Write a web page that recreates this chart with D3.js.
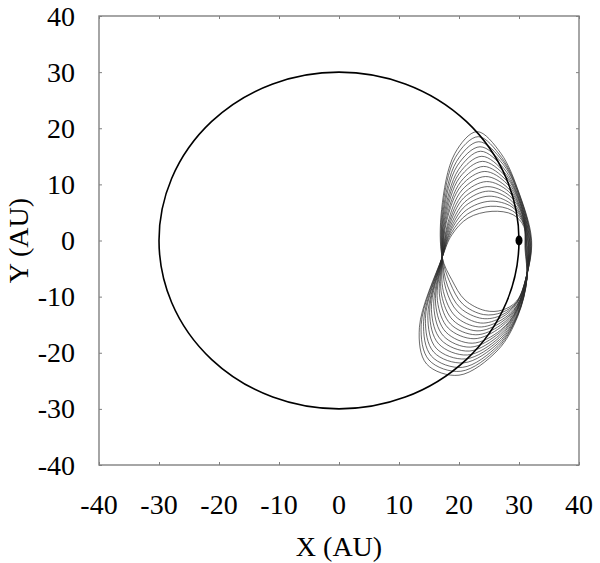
<!DOCTYPE html>
<html>
<head>
<meta charset="utf-8">
<script src="https://cdn.jsdelivr.net/npm/d3@7"></script>
<style>
  html, body { margin: 0; padding: 0; background: #fff; }
  svg { display: block; }
  text { font-family: "Liberation Serif", "Times New Roman", serif; fill: #000; }
</style>
</head>
<body>
<svg id="chart" width="600" height="563"></svg>
<script>
// ---- data (AU) ----
const xTicks = [-40, -30, -20, -10, 0, 10, 20, 30, 40];
const yTicks = [-40, -30, -20, -10, 0, 10, 20, 30, 40];
const orbitRadius = 30;          // circular orbit
const planet = [30, 0];          // planet position
const pinch = [17.2, -3.0];      // common crossing point of the loops

// key points of the 17 loops (index 0 = smallest upper arc / deepest lower arc)
const u1x = [18.8,18.7,18.6,18.5,18.4,18.3,18.2,18.1,17.9,17.8,17.7,17.6,17.5,17.4,17.3,17.2,17.1];
const u1y = [1.0,1.3,1.6,1.8,2.1,2.4,2.7,3.0,3.3,3.5,3.8,4.1,4.4,4.7,4.9,5.2,5.5];
const u2x = [21.5,21.4,21.2,21.1,21.0,20.8,20.7,20.5,20.4,20.3,20.1,20.0,19.9,19.7,19.6,19.4,19.3];
const u2y = [4.0,4.7,5.4,6.2,6.9,7.6,8.3,9.0,9.8,10.5,11.2,11.9,12.6,13.3,14.1,14.8,15.5];
const u3x = [25.5,25.3,25.2,25.0,24.9,24.7,24.6,24.4,24.3,24.1,23.9,23.8,23.6,23.5,23.3,23.2,23.0];
const u3y = [5.2,6.1,7.0,7.9,8.8,9.6,10.5,11.4,12.3,13.2,14.1,15.0,15.9,16.7,17.6,18.5,19.4];
const u4x = [29.0,28.9,28.8,28.6,28.5,28.4,28.3,28.1,28.0,27.9,27.8,27.6,27.5,27.4,27.3,27.1,27.0];
const u4y = [4.6,5.3,6.0,6.6,7.3,8.0,8.7,9.4,10.1,10.7,11.4,12.1,12.8,13.5,14.1,14.8,15.5];
const u5x = [30.8,30.8,30.7,30.7,30.6,30.6,30.5,30.5,30.4,30.4,30.3,30.3,30.2,30.2,30.1,30.1,30.0];
const u5y = [2.5,2.9,3.3,3.6,4.0,4.4,4.8,5.1,5.5,5.9,6.3,6.6,7.0,7.4,7.8,8.1,8.5];
const r1x = [31.0,31.1,31.1,31.2,31.3,31.3,31.4,31.5,31.6,31.6,31.7,31.8,31.8,31.9,32.0,32.0,32.1];
const r1y = [-1.5,-1.4,-1.3,-1.2,-1.1,-1.0,-0.9,-0.8,-0.8,-0.7,-0.6,-0.5,-0.4,-0.3,-0.2,-0.1,0.0];
const r2x = [31.3,31.3,31.3,31.3,31.3,31.3,31.3,31.3,31.2,31.2,31.2,31.2,31.2,31.2,31.2,31.2,31.2];
const r2y = [-7.0,-7.0,-6.9,-6.9,-6.9,-6.8,-6.8,-6.8,-6.8,-6.7,-6.7,-6.7,-6.6,-6.6,-6.6,-6.5,-6.5];
const l1x = [29.8,29.8,29.8,29.8,29.8,29.7,29.7,29.7,29.7,29.7,29.7,29.7,29.7,29.6,29.6,29.6,29.6];
const l1y = [-13.5,-13.3,-13.2,-13.0,-12.8,-12.7,-12.5,-12.3,-12.2,-12.0,-11.8,-11.6,-11.5,-11.3,-11.1,-11.0,-10.8];
const l2x = [26.5,26.5,26.6,26.6,26.7,26.7,26.8,26.8,26.9,26.9,26.9,27.0,27.0,27.1,27.1,27.2,27.2];
const l2y = [-19.5,-19.1,-18.6,-18.2,-17.7,-17.3,-16.8,-16.4,-16.0,-15.5,-15.1,-14.6,-14.2,-13.7,-13.3,-12.8,-12.4];
const l3x = [20.0,20.3,20.6,20.8,21.1,21.4,21.7,21.9,22.2,22.5,22.8,23.0,23.3,23.6,23.9,24.1,24.4];
const l3y = [-24.0,-23.3,-22.6,-21.8,-21.1,-20.4,-19.7,-19.0,-18.3,-17.5,-16.8,-16.1,-15.4,-14.7,-13.9,-13.2,-12.5];
const l4x = [14.6,15.0,15.4,15.8,16.2,16.6,17.0,17.4,17.8,18.2,18.6,19.0,19.4,19.8,20.2,20.6,21.0];
const l4y = [-22.0,-21.3,-20.6,-19.9,-19.2,-18.4,-17.7,-17.0,-16.3,-15.6,-14.9,-14.2,-13.5,-12.7,-12.0,-11.3,-10.6];
const l5x = [13.4,13.7,14.1,14.4,14.8,15.1,15.4,15.8,16.1,16.4,16.8,17.1,17.4,17.8,18.1,18.5,18.8];
const l5y = [-15.5,-15.0,-14.4,-13.9,-13.4,-12.8,-12.3,-11.8,-11.3,-10.7,-10.2,-9.7,-9.1,-8.6,-8.1,-7.5,-7.0];

const xLabel = "X (AU)";
const yLabel = "Y (AU)";

// ---- build loops table ----
const keyX = [u1x,u2x,u3x,u4x,u5x,r1x,r2x,l1x,l2x,l3x,l4x,l5x];
const keyY = [u1y,u2y,u3y,u4y,u5y,r1y,r2y,l1y,l2y,l3y,l4y,l5y];
const loops = u1x.map((_, k) => [pinch].concat(keyX.map((arr, j) => [arr[k], keyY[j][k]])));

// ---- drawing ----
const svg = d3.select("#chart");
const mLeft = 99, mRight = 579, mTop = 16, mBottom = 465;
const x = d3.scaleLinear().domain([-40, 40]).range([mLeft, mRight]);
const y = d3.scaleLinear().domain([-40, 40]).range([mBottom, mTop]);

const frameColor = "#808080";
const tickLen = 3;
const fontSize = 28;

// loops
const line = d3.line()
  .x(d => x(d[0])).y(d => y(d[1]))
  .curve(d3.curveCatmullRomClosed.alpha(0.5));
svg.append("g").selectAll("path").data(loops).join("path")
  .attr("d", line)
  .attr("fill", "none")
  .attr("stroke", "#2a2a2a")
  .attr("stroke-width", 0.7);

// orbit circle
svg.append("ellipse")
  .attr("cx", x(0)).attr("cy", y(0))
  .attr("rx", x(orbitRadius) - x(0))
  .attr("ry", y(0) - y(orbitRadius))
  .attr("fill", "none").attr("stroke", "#000").attr("stroke-width", 1.6);

// planet
svg.append("ellipse")
  .attr("cx", x(planet[0])).attr("cy", y(planet[1]))
  .attr("rx", 3.5).attr("ry", 5)
  .attr("fill", "#000");

// frame
svg.append("rect")
  .attr("x", mLeft).attr("y", mTop)
  .attr("width", mRight - mLeft).attr("height", mBottom - mTop)
  .attr("fill", "none").attr("stroke", frameColor).attr("stroke-width", 1.4);

// axes (inward ticks on all sides)
const axB = d3.axisBottom(x).tickValues(xTicks).tickSize(-tickLen).tickFormat("");
const axT = d3.axisTop(x).tickValues(xTicks).tickSize(-tickLen).tickFormat("");
const axL = d3.axisLeft(y).tickValues(yTicks).tickSize(-tickLen).tickFormat("");
const axR = d3.axisRight(y).tickValues(yTicks).tickSize(-tickLen).tickFormat("");
[[axB, `translate(0,${mBottom})`], [axT, `translate(0,${mTop})`],
 [axL, `translate(${mLeft},0)`], [axR, `translate(${mRight},0)`]].forEach(([ax, tr]) => {
  const g = svg.append("g").attr("transform", tr).call(ax);
  g.select(".domain").remove();
  g.selectAll("line").attr("stroke", frameColor).attr("stroke-width", 1);
});

// tick labels
svg.append("g").selectAll("text").data(xTicks).join("text")
  .attr("x", d => x(d)).attr("y", 514)
  .attr("text-anchor", "middle")
  .style("font-size", fontSize + "px")
  .text(d => d);
svg.append("g").selectAll("text").data(yTicks).join("text")
  .attr("x", 75).attr("y", d => y(d))
  .attr("dy", "0.34em")
  .attr("text-anchor", "end")
  .style("font-size", fontSize + "px")
  .text(d => d);

// axis titles
svg.append("text")
  .attr("x", x(0)).attr("y", 556)
  .attr("text-anchor", "middle")
  .style("font-size", fontSize + "px")
  .text(xLabel);
svg.append("text")
  .attr("transform", `translate(28,${y(0)}) rotate(-90)`)
  .attr("text-anchor", "middle")
  .style("font-size", fontSize + "px")
  .text(yLabel);
</script>
</body>
</html>
